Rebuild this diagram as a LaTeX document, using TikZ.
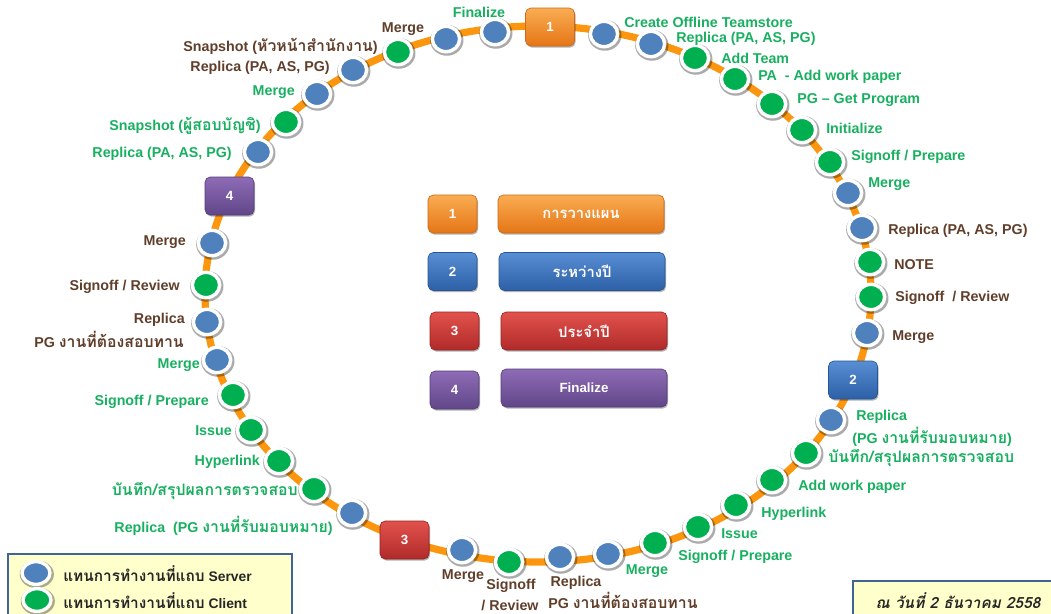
\documentclass[tikz,border=0pt]{standalone}
\usepackage{fontspec}
\setmainfont{Liberation Sans}
\newfontfamily\thaifont[Script=Thai,Scale=1.11]{Loma}
\newcommand\thx[1]{{\thaifont #1}}
\usetikzlibrary{shapes.geometric,shadows}

\definecolor{ringorange}{RGB}{252,150,14}
\definecolor{srvblue}{RGB}{79,129,189}
\definecolor{cligreen}{RGB}{0,176,80}
\definecolor{labgreen}{RGB}{24,176,96}
\definecolor{labbrown}{RGB}{96,62,42}
\definecolor{noteyellow}{RGB}{255,255,204}
\definecolor{noteframe}{RGB}{65,100,150}
\definecolor{orgtop}{RGB}{250,172,82}
\definecolor{orgbot}{RGB}{228,118,22}
\definecolor{orgdraw}{RGB}{205,105,25}
\definecolor{blutop}{RGB}{88,142,212}
\definecolor{blubot}{RGB}{45,96,166}
\definecolor{bludraw}{RGB}{40,85,150}
\definecolor{redtop}{RGB}{226,82,76}
\definecolor{redbot}{RGB}{176,42,42}
\definecolor{reddraw}{RGB}{150,35,35}
\definecolor{purtop}{RGB}{142,108,182}
\definecolor{purbot}{RGB}{96,70,136}
\definecolor{purdraw}{RGB}{85,60,120}

\begin{document}
\begin{tikzpicture}[x=0.75pt,y=-0.75pt,
  ring/.style={draw=ringorange,line width=5.4pt},
  halo/.style={drop shadow={shadow xshift=0.5pt,shadow yshift=-0.8pt,shadow scale=1.22,opacity=0.33,fill=black}},
  dot/.style={ellipse,draw=white,line width=2.6pt,minimum width=20.5pt,minimum height=19pt,inner sep=0pt,halo},
  srv/.style={dot,fill=srvblue},
  cli/.style={dot,fill=cligreen},
  phase/.style={rounded corners=4pt,minimum width=36.75pt,minimum height=28.5pt,inner sep=0pt,
    text=white,font=\bfseries\fontsize{10}{12}\selectfont,line width=0.5pt,
    drop shadow={shadow xshift=0.8pt,shadow yshift=-1.2pt,opacity=0.3,fill=black}},
  wide/.style={phase,minimum width=124.5pt},
  porg/.style={top color=orgtop,bottom color=orgbot,draw=orgdraw},
  pblu/.style={top color=blutop,bottom color=blubot,draw=bludraw},
  pred/.style={top color=redtop,bottom color=redbot,draw=reddraw},
  ppur/.style={top color=purtop,bottom color=purbot,draw=purdraw},
  lbl/.style={inner sep=0pt,font=\bfseries\fontsize{10.7}{12}\selectfont},
  lg/.style={lbl,text=labgreen},
  lb/.style={lbl,text=labbrown},
  legtxt/.style={inner sep=0pt,anchor=west,text=black!85,font=\bfseries\fontsize{10.4}{12}\selectfont},
  legdot/.style={ellipse,draw=white,line width=2.5pt,minimum width=21pt,minimum height=17pt,inner sep=0pt,halo}
]
\useasboundingbox (0,0) rectangle (1051,614);

% the orange track
\draw[ring] (538,294) ellipse [x radius=249.75pt, y radius=201pt];

% phase markers on the track
\node[phase,porg] (p1) at (550,27) {1};
\node[phase,pblu] (p2) at (853,380) {2};
\node[phase,pred] (p3) at (404.5,540) {3};
\node[phase,ppur] (p4) at (229.5,196) {4};

% steps, clockwise from phase 1
\node[srv] (s01) at (604,34) {};
\node[srv] (s02) at (651,44) {};
\node[cli] (c03) at (695,58) {};
\node[cli] (c04) at (735,79) {};
\node[cli] (c05) at (772,104) {};
\node[cli] (c06) at (802,130) {};
\node[cli] (c07) at (830,162) {};
\node[srv] (s08) at (848,193) {};
\node[srv] (s09) at (862,228) {};
\node[cli] (c10) at (870,262) {};
\node[cli] (c11) at (871,297) {};
\node[srv] (s12) at (867,333) {};
\node[srv] (s13) at (831,420) {};
\node[cli] (c14) at (806,453) {};
\node[cli] (c15) at (772,480) {};
\node[cli] (c16) at (736,505) {};
\node[cli] (c17) at (698,527) {};
\node[cli] (c18) at (655,543) {};
\node[srv] (s19) at (608,554) {};
\node[srv] (s20) at (560,557) {};
\node[cli] (c21) at (509,562) {};
\node[srv] (s22) at (462,550) {};
\node[srv] (s23) at (352,513) {};
\node[cli] (c24) at (314,489) {};
\node[cli] (c25) at (279,461) {};
\node[cli] (c26) at (251,430) {};
\node[cli] (c27) at (233,395) {};
\node[srv] (s28) at (217,360) {};
\node[srv] (s29) at (207,322) {};
\node[cli] (c30) at (206,285) {};
\node[srv] (s31) at (212,243) {};
\node[srv] (s32) at (258,152) {};
\node[cli] (c33) at (286,122) {};
\node[srv] (s34) at (317,94) {};
\node[srv] (s35) at (353,70) {};
\node[cli] (c36) at (398,52) {};
\node[srv] (s37) at (446,39) {};
\node[srv] (s38) at (495,32) {};

% step labels: top
\node[lb,anchor=east] (t36) at (378,46) {Snapshot (\thx{หัวหน้าสำนักงาน})};
\node[lb] (t37) at (403,29) {Merge};
\node[lg] (t38) at (479,12) {Finalize};
\node[lb,anchor=east] (t35) at (330,68) {Replica (PA, AS, PG)};
\node[lg,anchor=east] (t34) at (295,92) {Merge};
\node[lg,anchor=east] (t33) at (261,126) {Snapshot (\thx{ผู้สอบบัญชิ})};
\node[lg,anchor=east] (t32) at (232,154) {Replica (PA, AS, PG)};

% step labels: upper right
\node[lg,anchor=west] (t01) at (624,22) {Create Offline Teamstore};
\node[lg,anchor=west] (t02) at (676,39) {Replica (PA, AS, PG)};
\node[lg,anchor=west] (t03) at (721,58) {Add Team};
\node[lg,anchor=west] (t04) at (758,77) {PA\ \ - Add work paper};
\node[lg,anchor=west] (t05) at (797,100) {PG -- Get Program};
\node[lg,anchor=west] (t06) at (826,128) {Initialize};
\node[lg,anchor=west] (t07) at (851,157) {Signoff / Prepare};
\node[lg,anchor=west] (t08) at (868,184) {Merge};

% step labels: right
\node[lb,anchor=west] (t09) at (888,231) {Replica (PA, AS, PG)};
\node[lb,anchor=west] (t10) at (894,265) {NOTE};
\node[lb,anchor=west] (t11) at (895,298) {Signoff\ \ / Review};
\node[lb,anchor=west] (t12) at (892,337) {Merge};

% step labels: lower right
\node[lg,anchor=west] (t13a) at (856,417) {Replica};
\node[lg,anchor=west] (t13b) at (852,437) {(PG \thx{งานที่รับมอบหมาย})};
\node[lg,anchor=west] (t14) at (828,458) {\thx{บันทึก/สรุปผลการตรวจสอบ}};
\node[lg,anchor=west] (t15) at (798,487) {Add work paper};
\node[lg,anchor=west] (t16) at (761,514) {Hyperlink};
\node[lg,anchor=west] (t17) at (721,534) {Issue};
\node[lg,anchor=west] (t18) at (678,557) {Signoff / Prepare};

% step labels: bottom
\node[lg] (t19) at (647,571) {Merge};
\node[lb] (t20a) at (576,583) {Replica};
\node[lb,anchor=west] (t20b) at (548,600) {PG \thx{งานที่ต้องสอบทาน}};
\node[lb] (t21a) at (511,586) {Signoff};
\node[lb] (t21b) at (510,605) {/ Review};
\node[lb] (t22) at (463,576) {Merge};

% step labels: lower left
\node[lg,anchor=east] (t23) at (333,526) {Replica\ \ (PG \thx{งานที่รับมอบหมาย})};
\node[lg,anchor=east] (t24) at (298,491) {\thx{บันทึก/สรุปผลการตรวจสอบ}};
\node[lg,anchor=east] (t25) at (260,462) {Hyperlink};
\node[lg,anchor=east] (t26) at (232,431) {Issue};
\node[lg,anchor=east] (t27) at (209,402) {Signoff / Prepare};
\node[lg,anchor=east] (t28) at (200,365) {Merge};
\node[lb,anchor=east] (t29a) at (185,320) {Replica};
\node[lb,anchor=east] (t29b) at (184,339) {PG \thx{งานที่ต้องสอบทาน}};
\node[lb,anchor=east] (t30) at (180,287) {Signoff / Review};
\node[lb,anchor=east] (t31) at (186,242) {Merge};

% phase key in the middle
\node[phase,porg] (k1) at (452.5,214) {1};
\node[wide,porg] (n1) at (581,214) {\thx{การวางแผน}};
\node[phase,pblu] (k2) at (452.5,271.5) {2};
\node[wide,pblu] (n2) at (582,271.5) {\thx{ระหว่างปี}};
\node[phase,pred] (k3) at (454.5,331) {3};
\node[wide,pred] (n3) at (584,331) {\thx{ประจำปี}};
\node[phase,ppur] (k4) at (454.5,390) {4};
\node[wide,ppur] (n4) at (584,388) {Finalize};

% legend of the two kinds of step
\draw[fill=noteyellow,draw=noteframe,line width=2pt] (8,554) rectangle (292,630);
\node[legdot,fill=srvblue] (ls) at (36,573) {};
\node[legtxt] (lst) at (63,574) {\thx{แทนการทำงานที่แถบ} Server};
\node[legdot,fill=cligreen] (lc) at (37,600) {};
\node[legtxt] (lct) at (63,601) {\thx{แทนการทำงานที่แถบ} Client};

% date stamp
\draw[fill=noteyellow,draw=noteframe,line width=2pt] (853,581) rectangle (1070,640);
\node[inner sep=0pt,text=black!85,font=\thaifont\bfseries\itshape\fontsize{10.4}{12}\selectfont] (date) at (958,601) {ณ วันที่ 2 ธันวาคม 2558};
\end{tikzpicture}
\end{document}
